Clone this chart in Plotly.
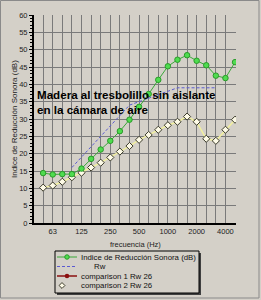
import plotly.graph_objects as go

W, H = 261, 300

freqs = ['50', '63', '80', '100', '125', '160', '200', '250', '315', '400', '500',
         '630', '800', '1000', '1250', '1600', '2000', '2500', '3150', '4000', '5000']
tick_labels = ['63', '125', '250', '500', '1000', '2000', '4000']
r_index = [14.4, 14.0, 14.1, 14.1, 15.7, 18.5, 21.2, 23.7, 26.5, 29.8, 33.5,
           37.2, 41.3, 45.2, 47.1, 48.4, 46.8, 45.5, 42.5, 41.8, 46.4]
rw_curve = [None, None, None, 16, 19, 22, 25, 28, 31, 34, 35,
            36, 37, 38, 39, 39, 39, 39, 39, None, None]
comp1 = [None] * len(freqs)
comp2 = [10.2, 10.8, 11.9, 13.2, 14.5, 16.0, 17.4, 18.9, 20.6, 22.2, 24.0,
         25.4, 26.9, 28.2, 29.2, 30.7, 29.2, 24.3, 23.7, 26.9, 29.8]

series_names = ['Indice de Reducción Sonora (dB)', 'Rw', 'comparison 1 Rw 26', 'comparison 2 Rw 26']

BG = '#d4d0c8'
GREEN_LINE = '#3aa83a'
GREEN_FILL = '#4fdc4f'
GREEN_EDGE = '#2a9a2a'
DASH = '#5a5ad0'
RED = '#8b1010'
YEL = '#f2f0a0'
FONT = 'Liberation Sans, Arial'

def px(x):
    return x / W

def py(y):
    return 1 - y / H

fig = go.Figure()

fig.add_trace(go.Scatter(x=freqs, y=comp2, mode='lines+markers', name=series_names[3],
                         line=dict(color=YEL, width=1.5),
                         marker=dict(symbol='diamond', size=5.5, color='#fffce8',
                                     line=dict(color='#3a3a2a', width=1)),
                         showlegend=False))
fig.add_trace(go.Scatter(x=freqs, y=comp1, mode='lines+markers', name=series_names[2],
                         line=dict(color=RED, width=1.5), marker=dict(color=RED, size=5),
                         showlegend=False))
fig.add_trace(go.Scatter(x=freqs, y=rw_curve, mode='lines', name=series_names[1],
                         line=dict(color=DASH, width=1, dash='3px,2px'), showlegend=False))
fig.add_trace(go.Scatter(x=freqs, y=r_index, mode='lines+markers', name=series_names[0],
                         line=dict(color=GREEN_LINE, width=1),
                         marker=dict(symbol='circle', size=5.5, color=GREEN_FILL,
                                     line=dict(color=GREEN_EDGE, width=1)),
                         showlegend=False))

ticktext = [f if f in tick_labels else '' for f in freqs]

# ---- custom compact legend on auxiliary axes (pixel units) ----
LX0, LX1, LY0, LY1 = 55, 199, 251, 293
rows = [257, 266.5, 276, 285.5]
fig.add_trace(go.Scatter(x=[57, 77], y=[rows[0]] * 2, xaxis='x2', yaxis='y2', mode='lines',
                         line=dict(color=GREEN_LINE, width=1), showlegend=False, hoverinfo='skip'))
fig.add_trace(go.Scatter(x=[67], y=[rows[0]], xaxis='x2', yaxis='y2', mode='markers',
                         marker=dict(size=4.5, color=GREEN_FILL, line=dict(color=GREEN_EDGE, width=1)),
                         showlegend=False, hoverinfo='skip'))
fig.add_trace(go.Scatter(x=[57, 77], y=[rows[1]] * 2, xaxis='x2', yaxis='y2', mode='lines',
                         line=dict(color=DASH, width=1, dash='3px,2px'), showlegend=False, hoverinfo='skip'))
fig.add_trace(go.Scatter(x=[57, 77], y=[rows[2]] * 2, xaxis='x2', yaxis='y2', mode='lines',
                         line=dict(color=RED, width=1.5), showlegend=False, hoverinfo='skip'))
fig.add_trace(go.Scatter(x=[67], y=[rows[2]], xaxis='x2', yaxis='y2', mode='markers',
                         marker=dict(size=4.5, color=RED), showlegend=False, hoverinfo='skip'))
fig.add_trace(go.Scatter(x=[62], y=[rows[3]], xaxis='x2', yaxis='y2', mode='markers',
                         marker=dict(symbol='diamond', size=4.5, color='#fffce8',
                                     line=dict(color='#3a3a2a', width=1)),
                         showlegend=False, hoverinfo='skip'))

annotations = []
text_x = [79, 92, 79, 79]
for name, yy, xx in zip(series_names, rows, text_x):
    annotations.append(dict(x=xx, y=yy, xref='x2', yref='y2', text=name, showarrow=False,
                            xanchor='left', yanchor='middle',
                            font=dict(family=FONT, size=7.8, color='#111')))

# chart annotation
annotations.append(dict(x=px(35), y=py(102), xref='paper', yref='paper',
                        text='Madera al tresbolillo sin aislante<br>en la cámara de aire',
                        showarrow=False, xanchor='left', yanchor='middle', align='left',
                        font=dict(family=FONT, size=11.6, color='#000', weight='bold')))
# axis titles
annotations.append(dict(x=px(135), y=py(244), xref='paper', yref='paper', text='frecuencia (Hz)',
                        showarrow=False, xanchor='center', yanchor='middle',
                        font=dict(family=FONT, size=7.5, color='#222')))
annotations.append(dict(x=px(14), y=py(119), xref='paper', yref='paper',
                        text='Indice de Reducción Sonora (dB)', textangle=-90,
                        showarrow=False, xanchor='center', yanchor='middle',
                        font=dict(family=FONT, size=8, color='#222')))

shapes = [
    dict(type='rect', xref='paper', yref='paper', x0=px(0.5), x1=px(259), y0=py(298), y1=py(0.5),
         line=dict(color='#8a8a8a', width=1), fillcolor='rgba(0,0,0,0)', layer='below'),
    dict(type='rect', xref='paper', yref='paper', x0=px(LX0 + 2), x1=px(LX1 + 2),
         y0=py(LY1 + 2), y1=py(LY0 + 2), line=dict(width=0), fillcolor='#404040', layer='below'),
    dict(type='rect', xref='paper', yref='paper', x0=px(LX0), x1=px(LX1), y0=py(LY1), y1=py(LY0),
         line=dict(color='#000', width=1), fillcolor=BG, layer='below'),
]

fig.update_layout(
    width=W, height=H,
    margin=dict(l=0, r=0, t=0, b=0),
    paper_bgcolor=BG, plot_bgcolor=BG,
    showlegend=False,
    xaxis=dict(domain=[px(34), px(236)], type='category', range=[-0.95, 20.1],
               tickmode='array', tickvals=freqs, ticktext=ticktext,
               showgrid=True, gridcolor='#7a7a7a', gridwidth=1,
               showline=True, linecolor='#000', linewidth=2,
               ticks='', tickfont=dict(family=FONT, size=7.5, color='#222'),
               zeroline=False, fixedrange=True, automargin=False),
    yaxis=dict(domain=[py(223), py(15)], range=[0, 60], dtick=5,
               showgrid=True, gridcolor='#7a7a7a', gridwidth=1,
               showline=True, linecolor='#000', linewidth=2,
               ticks='outside', ticklen=3, tickcolor='#000', tickwidth=1,
               minor=dict(dtick=1, ticks='outside', ticklen=2, tickcolor='#000', showgrid=False),
               tickfont=dict(family=FONT, size=7.5, color='#222'),
               zeroline=False, fixedrange=True, automargin=False),
    xaxis2=dict(domain=[px(LX0), px(LX1)], range=[LX0, LX1], visible=False, anchor='y2',
                fixedrange=True),
    yaxis2=dict(domain=[py(LY1), py(LY0)], range=[LY1, LY0], visible=False, anchor='x2',
                fixedrange=True),
    annotations=annotations,
    shapes=shapes,
)

fig.write_html('out.html')
